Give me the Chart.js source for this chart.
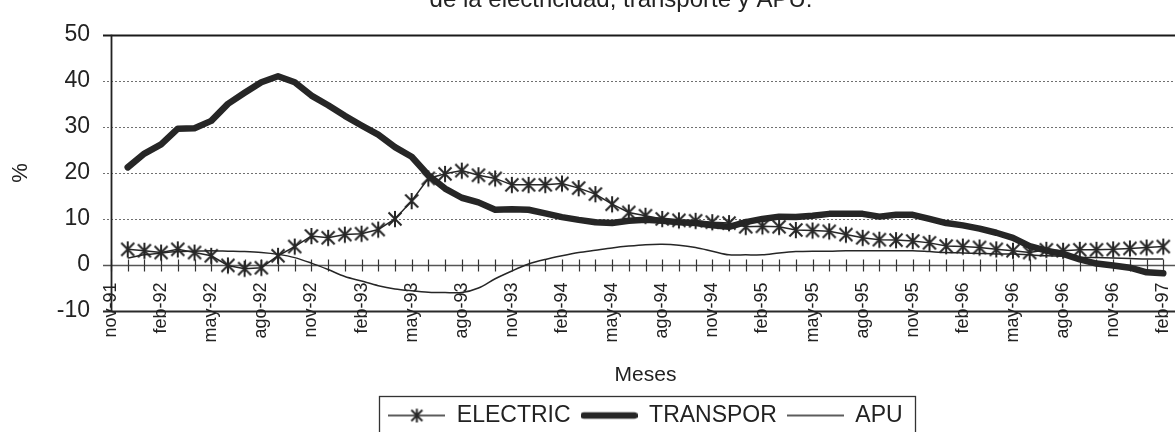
<!DOCTYPE html>
<html>
<head>
<meta charset="utf-8">
<script src="https://cdn.jsdelivr.net/npm/chart.js@4.4.1/dist/chart.umd.min.js"></script>
<style>
  html, body { margin: 0; padding: 0; background: #fff; overflow: hidden; }
  #wrap { width: 1175px; height: 432px; overflow: hidden; position: relative; background: #fff; }
  canvas { display: block; }
</style>
</head>
<body>
<div id="wrap"><canvas id="c" width="1190" height="437"></canvas></div>
<script>
// Monthly categories, nov-91 .. mar-97
const months = [
  'nov-91','dic-91',
  'ene-92','feb-92','mar-92','abr-92','may-92','jun-92','jul-92','ago-92','sep-92','oct-92','nov-92','dic-92',
  'ene-93','feb-93','mar-93','abr-93','may-93','jun-93','jul-93','ago-93','sep-93','oct-93','nov-93','dic-93',
  'ene-94','feb-94','mar-94','abr-94','may-94','jun-94','jul-94','ago-94','sep-94','oct-94','nov-94','dic-94',
  'ene-95','feb-95','mar-95','abr-95','may-95','jun-95','jul-95','ago-95','sep-95','oct-95','nov-95','dic-95',
  'ene-96','feb-96','mar-96','abr-96','may-96','jun-96','jul-96','ago-96','sep-96','oct-96','nov-96','dic-96',
  'ene-97','feb-97','mar-97'
];

// Annual variation (%)
const electric = [null,
  3.4, 3.1, 2.7, 3.4, 2.7, 2.0, -0.1, -0.8, -0.6, 2.0,
  4.0, 6.3, 5.9, 6.6, 6.8, 7.7, 10.0, 13.9, 18.8, 19.8,
  20.5, 19.5, 18.8, 17.4, 17.4, 17.4, 17.7, 16.7, 15.4, 13.2,
  11.4, 10.7, 10.0, 9.7, 9.6, 9.3, 9.1, 8.3, 8.4, 8.3,
  7.6, 7.5, 7.3, 6.6, 5.9, 5.5, 5.4, 5.2, 4.8, 4.1,
  4.0, 3.8, 3.4, 3.1, 2.7, 3.3, 3.1, 3.3, 3.3, 3.4,
  3.6, 3.8, 4.0, null];

const transpor = [null,
  21.2, 24.2, 26.2, 29.6, 29.7, 31.3, 35.0, 37.4, 39.7, 41.0,
  39.7, 36.8, 34.7, 32.4, 30.3, 28.3, 25.6, 23.5, 19.5, 16.6,
  14.6, 13.6, 12.0, 12.1, 12.0, 11.2, 10.4, 9.8, 9.3, 9.1,
  9.6, 9.8, 9.6, 9.3, 9.1, 8.6, 8.3, 9.3, 10.0, 10.5,
  10.4, 10.7, 11.1, 11.1, 11.1, 10.5, 10.9, 10.9, 10.0, 9.1,
  8.6, 7.9, 7.0, 5.9, 4.1, 3.1, 2.4, 1.2, 0.3, -0.1,
  -0.6, -1.6, -1.8, null];

const apu = [null,
  1.5, 2.2, 2.6, 2.9, 3.0, 3.1, 3.0, 2.9, 2.7, 2.3,
  1.6, 0.4, -1.0, -2.5, -3.5, -4.5, -5.2, -5.6, -5.9, -6.0,
  -6.0, -5.0, -3.0, -1.3, 0.2, 1.2, 2.0, 2.7, 3.2, 3.7,
  4.1, 4.4, 4.5, 4.3, 3.8, 3.0, 2.2, 2.2, 2.2, 2.6,
  2.9, 3.0, 3.0, 3.1, 3.1, 3.1, 3.1, 3.1, 2.9, 2.7,
  2.6, 2.5, 2.4, 2.4, 2.2, 2.0, 1.9, 1.7, 1.6, 1.5,
  1.4, 1.3, 1.3, null];

const seriesNames = ['ELECTRIC', 'TRANSPOR', 'APU'];
const gridValues = [10, 20, 30, 40];
const titleLine = 'de la electricidad, transporte y APU.';

const INK = '#262626';
const FONT = "'Liberation Sans', Arial, Helvetica, sans-serif";
Chart.defaults.font.family = FONT;
Chart.defaults.color = '#222';

// Small canvases used as point / legend glyphs
function makeIcon(w, h, draw) {
  const c = document.createElement('canvas');
  c.width = w; c.height = h;
  const g = c.getContext('2d');
  g.strokeStyle = INK;
  draw(g, w, h);
  return c;
}
function asterisk(g, cx, cy, r) {
  g.beginPath();
  g.moveTo(cx - r, cy - r); g.lineTo(cx + r, cy + r);
  g.moveTo(cx + r, cy - r); g.lineTo(cx - r, cy + r);
  g.moveTo(cx, cy - r * 1.25); g.lineTo(cx, cy + r * 1.25);
  g.stroke();
}
const starMark = makeIcon(20, 20, (g) => { g.lineWidth = 2; asterisk(g, 10, 10, 6.5); });
const legendIcons = [
  makeIcon(57, 18, (g, w) => {
    g.lineWidth = 1.6;
    g.beginPath(); g.moveTo(0, 9); g.lineTo(w, 9); g.stroke();
    g.lineWidth = 2; asterisk(g, w / 2, 9, 5.5);
  }),
  makeIcon(57, 10, (g, w) => {
    g.lineWidth = 6.5; g.lineCap = 'round';
    g.beginPath(); g.moveTo(3, 5); g.lineTo(w - 3, 5); g.stroke();
  }),
  makeIcon(57, 4, (g, w) => {
    g.lineWidth = 1.5;
    g.beginPath(); g.moveTo(0, 2); g.lineTo(w, 2); g.stroke();
  })
];

// Plot frame: dotted grid, zero axis with monthly ticks, borders, month labels
const framePlugin = {
  id: 'frame',
  beforeDatasetsDraw(chart) {
    const { ctx, chartArea: a, scales: { x, y } } = chart;
    const x0 = a.left - 8, x1 = chart.width;
    const hline = (v, w, color, dash) => {
      const py = Math.round(y.getPixelForValue(v)) + 0.5;
      ctx.lineWidth = w; ctx.strokeStyle = color; ctx.setLineDash(dash || []);
      ctx.beginPath(); ctx.moveTo(x0, py); ctx.lineTo(x1, py); ctx.stroke();
      return py;
    };
    ctx.save();
    gridValues.forEach(v => hline(v, 1, '#707070', [2, 2]));
    ctx.setLineDash([]);
    const y0 = hline(0, 1.5, '#555');
    ctx.lineWidth = 1.2; ctx.strokeStyle = '#333';
    ctx.beginPath();
    for (let i = 0; i < months.length; i++) {
      const px = Math.round(x.getPixelForValue(i)) + 0.5;
      ctx.moveTo(px, y0 - 6); ctx.lineTo(px, y0 + 6);
    }
    ctx.stroke();
    hline(y.max, 2.2, '#1a1a1a');
    const yb = hline(y.min, 1.8, '#2a2a2a');
    const lx = Math.round(a.left) + 0.5;
    ctx.lineWidth = 1.8; ctx.strokeStyle = '#222';
    ctx.beginPath();
    ctx.moveTo(lx, y.getPixelForValue(y.max)); ctx.lineTo(lx, y.getPixelForValue(y.min));
    ctx.stroke();

    // quarterly month labels, vertical, straddling the lower border
    ctx.font = '18px ' + FONT;
    ctx.fillStyle = '#222';
    ctx.textAlign = 'right';
    ctx.textBaseline = 'middle';
    for (let i = 0; i < months.length; i += 3) {
      const px = x.getPixelForValue(i);
      ctx.save();
      ctx.translate(px, yb - 29);
      ctx.rotate(-Math.PI / 2);
      ctx.fillText(months[i], 0, 0);
      ctx.restore();
    }
    ctx.restore();
  },
  afterDraw(chart) {
    const { ctx } = chart;
    ctx.save();
    // heading line
    ctx.font = '24px ' + FONT;
    ctx.fillStyle = '#222';
    ctx.textAlign = 'center';
    ctx.textBaseline = 'alphabetic';
    ctx.fillText(titleLine, 621, 7);
    // legend frame
    const hb = chart.legend.legendHitBoxes;
    if (hb && hb.length) {
      const l = hb[0].left - 9;
      const r = hb[hb.length - 1].left + hb[hb.length - 1].width + 13;
      const t = hb[0].top - 8;
      ctx.lineWidth = 1.3; ctx.strokeStyle = '#333';
      ctx.strokeRect(Math.round(l) + 0.5, Math.round(t) + 0.5, Math.round(r - l), 60);
    }
    ctx.restore();
  }
};

new Chart(document.getElementById('c'), {
  type: 'line',
  data: {
    labels: months,
    datasets: [
      {
        label: seriesNames[0], data: electric,
        borderColor: INK, borderWidth: 1.5,
        pointStyle: starMark, pointRadius: 7, tension: 0
      },
      {
        label: seriesNames[1], data: transpor,
        borderColor: INK, borderWidth: 6.5, pointRadius: 0,
        borderCapStyle: 'round', borderJoinStyle: 'round', tension: 0
      },
      {
        label: seriesNames[2], data: apu,
        borderColor: INK, borderWidth: 1.5, pointRadius: 0, tension: 0.3
      }
    ]
  },
  options: {
    responsive: false,
    animation: false,
    layout: { padding: { top: 24, right: 10, left: 0, bottom: 0 } },
    scales: {
      x: {
        type: 'category',
        offset: false,
        grid: { display: false, drawTicks: false },
        border: { display: false },
        ticks: { display: false },
        title: { display: true, text: 'Meses', color: '#222', font: { size: 21 }, padding: { top: 0, bottom: 6 } },
        afterFit: (s) => { s.height = 83; }
      },
      y: {
        min: -10, max: 50,
        grid: { display: false, drawTicks: false },
        border: { display: false },
        ticks: { stepSize: 10, padding: 21, color: '#222', font: { size: 23 } },
        title: { display: true, text: '%', color: '#222', font: { size: 22 }, padding: { top: 8, bottom: 0 } },
        afterFit: (s) => { s.width = 111; }
      }
    },
    plugins: {
      legend: {
        position: 'bottom',
        fullSize: false,
        labels: {
          usePointStyle: true, pointStyleWidth: 57, padding: 10,
          color: '#222', font: { size: 23 },
          generateLabels: (chart) => chart.data.datasets.map((ds, i) => ({
            text: ds.label, pointStyle: legendIcons[i], datasetIndex: i,
            hidden: false, lineWidth: 0, fontColor: '#222',
            strokeStyle: INK, fillStyle: INK
          }))
        }
      },
      tooltip: { enabled: false }
    }
  },
  plugins: [framePlugin]
});
</script>
</body>
</html>
